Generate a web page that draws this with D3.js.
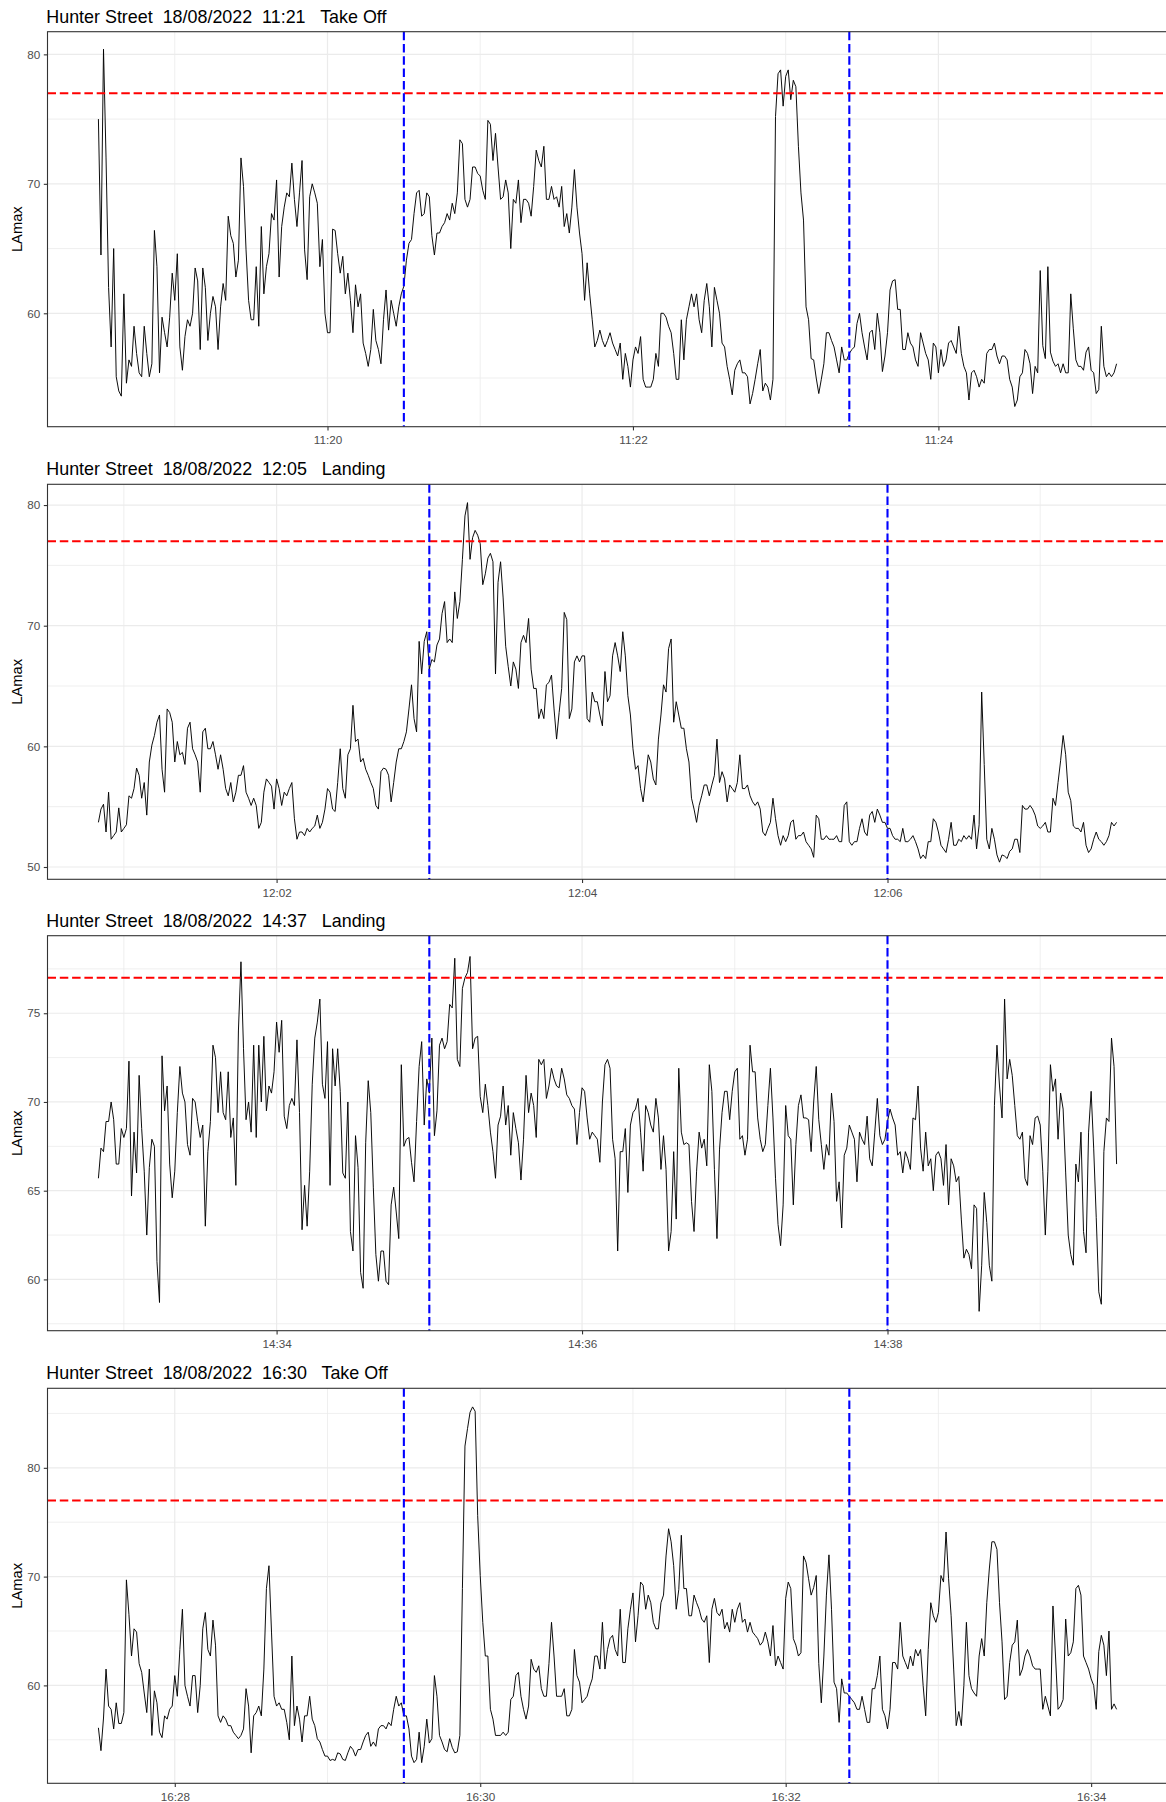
<!DOCTYPE html>
<html>
<head>
<meta charset="utf-8">
<script src="https://cdn.jsdelivr.net/npm/d3@7"></script>
<style>
  html, body { margin: 0; padding: 0; background: #ffffff; }
  svg { display: block; font-family: "Liberation Sans", Arial, sans-serif; }
</style>
</head>
<body>
<div id="chart"></div>
<script>
// Panel headings, one per aircraft event
const panelTitles = [
  "Hunter Street  18/08/2022  11:21   Take Off",
  "Hunter Street  18/08/2022  12:05   Landing",
  "Hunter Street  18/08/2022  14:37   Landing",
  "Hunter Street  18/08/2022  16:30   Take Off"
];

// First sample time of each record (one sample per second)
const startTimes = ["11:18:30", "12:00:50", "14:32:50", "16:27:30"];
const sampleSeconds = 1;

// Event window markers (blue dashed)
const eventMarks = [
  ["11:20:30", "11:23:25"],
  ["12:03:00", "12:06:00"],
  ["14:35:00", "14:38:00"],
  ["16:29:30", "16:32:25"]
];

// Noise threshold (red dashed), dB(A)
const thresholdDb = 77;

// Y axis limits and break spacing per panel
const yLimits = [[51.24, 81.75], [48.98, 81.72], [57.11, 79.37], [51.0, 87.31]];
const yBreakStep = [10, 10, 5, 10];

// LAmax readings, dB(A)
const lamax1121 = [
  75.0,64.5,80.4,72.0,62.0,57.4,65.0,55.1,54.0,53.6,61.5,54.6,56.4,55.9,59.0,56.9,55.4,55.1,59.0,56.9,
  55.1,56.1,66.4,63.6,55.4,59.7,58.5,57.4,59.7,63.1,61.0,64.6,57.4,55.6,58.2,59.5,59.0,60.0,63.5,62.5,
  57.2,63.5,62.0,57.9,60.0,61.3,60.5,57.2,60.5,62.3,61.0,67.5,66.0,65.4,62.8,64.1,72.0,69.8,64.9,61.0,
  59.5,59.5,63.6,59.0,66.7,61.5,63.6,64.6,67.7,67.2,70.3,62.8,66.7,68.2,69.3,69.0,71.6,68.8,66.7,69.3,
  71.8,64.9,62.6,69.0,70.0,69.3,68.5,63.6,65.7,60.0,58.5,58.5,66.5,66.4,64.6,63.1,64.4,61.5,63.1,61.0,
  58.5,62.2,60.5,61.5,57.7,56.9,55.9,57.2,60.3,57.9,57.2,56.1,59.5,61.8,58.7,61.0,60.0,59.0,60.5,61.5,
  62.1,64.1,65.4,65.7,67.7,69.3,69.5,67.5,67.7,69.3,69.0,66.0,64.5,66.2,66.2,66.7,67.0,67.7,67.2,68.5,
  67.7,69.3,73.4,73.1,68.8,68.2,68.8,71.3,71.3,70.8,70.6,69.5,68.8,74.9,74.6,71.8,73.9,71.3,68.8,69.0,
  70.3,69.3,65.0,68.8,68.5,70.3,67.0,68.8,68.8,68.5,67.5,69.8,72.6,71.8,71.3,72.9,68.8,68.8,69.8,68.8,
  69.0,68.2,69.8,66.7,67.7,66.2,68.2,71.1,68.2,66.2,64.6,61.0,63.9,61.5,59.5,57.4,57.9,58.7,57.9,57.4,
  57.9,58.5,57.7,57.2,56.7,57.7,54.9,56.9,55.9,54.3,56.4,57.4,56.9,58.2,54.9,54.3,54.3,54.3,54.9,56.9,
  55.9,60.0,60.0,59.7,59.0,58.5,56.9,54.9,54.9,59.5,56.4,59.5,60.5,61.5,60.5,61.5,59.5,58.5,61.0,62.3,
  60.5,57.4,62.0,61.0,60.0,57.7,57.4,55.9,54.9,53.7,55.6,56.1,56.4,55.4,55.4,55.1,53.0,53.8,54.9,56.1,
  57.2,54.0,54.6,54.3,53.3,54.9,75.2,78.5,78.8,76.0,78.3,78.8,76.5,78.0,77.5,72.9,69.3,67.2,60.5,59.5,
  56.5,56.4,55.0,53.8,54.9,56.1,58.5,58.5,57.9,57.4,56.4,55.4,57.4,56.4,56.4,56.9,57.2,57.4,59.2,60.0,
  58.5,57.4,56.4,58.5,58.7,57.2,60.0,58.5,55.5,56.7,58.5,61.8,62.5,62.6,60.3,60.3,57.2,57.2,58.5,57.7,
  57.4,56.4,55.9,58.5,57.7,56.9,56.4,54.9,57.7,57.4,55.4,57.2,55.9,56.4,57.7,57.9,57.4,56.9,59.0,56.9,
  55.9,55.4,53.3,55.4,55.6,55.1,54.3,54.9,54.6,56.9,57.2,57.2,57.7,56.7,56.1,56.7,56.7,56.4,54.9,54.3,
  52.8,53.3,55.1,55.4,57.2,56.9,56.1,53.8,55.9,55.4,63.3,57.5,56.5,63.6,57.0,56.3,55.9,56.1,55.4,56.1,
  55.4,55.4,61.5,58.8,56.4,55.9,55.9,55.6,57.0,57.4,55.6,55.4,53.8,54.1,59.0,55.9,55.1,55.4,55.1,55.4,
  56.1
];

const lamax1205 = [
  53.7,54.8,55.2,52.9,56.2,52.3,52.6,52.9,54.9,52.9,53.2,53.5,55.9,55.7,56.5,58.2,57.6,55.7,57.0,54.3,
  58.7,60.1,60.9,62.0,62.6,58.1,56.2,63.1,62.8,62.0,58.7,60.4,59.3,59.5,58.5,61.5,62.0,59.8,59.3,58.7,
  56.2,61.2,61.5,59.8,59.8,60.4,59.3,58.1,59.3,58.1,56.5,55.9,57.0,55.4,56.2,57.6,57.6,58.4,56.2,55.7,
  55.1,55.7,55.1,53.2,53.7,56.2,57.3,57.0,56.7,54.8,57.3,56.5,55.1,56.2,55.9,56.5,57.0,54.0,52.3,52.9,
  52.9,52.6,53.2,52.9,53.2,53.4,54.3,53.2,53.7,54.8,56.5,56.2,54.8,54.6,57.0,59.8,56.5,55.7,59.3,59.8,
  63.4,60.4,60.6,58.7,59.0,58.1,57.6,57.0,56.5,55.1,54.8,57.9,58.2,58.1,57.6,55.4,57.0,58.7,59.8,59.8,
  60.4,61.2,63.1,65.1,62.3,61.2,68.7,66.0,68.7,69.5,66.4,67.2,67.0,68.4,68.9,71.0,72.0,68.6,68.9,68.6,
  72.8,70.6,72.0,75.5,79.1,80.2,75.5,77.3,77.9,77.5,76.8,73.4,74.3,75.6,76.0,75.3,66.0,73.6,75.3,72.3,
  68.3,66.6,65.0,67.0,66.4,64.8,68.6,69.2,68.6,70.6,66.4,64.8,64.8,62.3,63.1,62.3,65.1,65.3,65.9,63.1,
  60.6,62.8,64.8,71.1,70.5,62.3,63.1,67.0,67.5,67.0,67.5,67.5,62.3,62.0,64.5,63.7,63.7,62.6,61.7,66.2,
  63.7,64.2,67.5,68.6,67.5,66.2,69.5,67.5,64.2,62.6,59.8,58.1,58.4,56.5,55.4,57.3,59.3,58.7,57.3,56.8,
  60.6,62.6,65.1,64.5,68.1,68.9,62.0,63.7,62.6,61.5,61.5,59.8,58.7,55.7,54.8,53.7,55.1,55.9,56.8,56.8,
  55.9,56.8,57.6,60.6,57.0,57.9,57.3,55.4,56.8,56.5,56.2,57.0,59.3,56.5,56.5,56.8,55.9,55.4,55.1,55.4,
  54.8,52.9,52.6,53.2,53.7,55.7,54.0,52.6,51.8,52.6,52.1,52.6,53.7,53.9,52.3,52.6,52.6,52.9,52.1,51.8,
  51.5,50.8,54.3,54.0,52.3,52.3,52.6,52.3,52.3,52.3,52.6,52.1,52.1,55.1,55.4,52.1,51.8,52.1,52.1,53.2,
  54.0,52.9,52.6,54.3,54.6,53.7,54.8,54.3,53.7,53.7,53.2,53.2,52.6,52.3,52.3,52.1,53.2,52.1,52.1,52.3,
  52.6,52.1,51.5,50.7,51.0,50.7,52.1,52.1,54.0,53.7,52.9,51.8,51.5,51.2,52.3,53.7,51.8,51.8,52.3,52.1,
  52.6,52.3,52.6,52.3,54.3,51.5,53.5,64.5,58.5,52.3,51.5,53.2,52.3,51.0,50.4,51.0,50.9,50.7,51.3,51.5,
  52.3,52.3,51.2,55.1,54.8,54.8,55.1,54.8,54.3,53.4,53.2,53.4,53.7,52.9,52.9,55.7,55.1,57.0,58.8,60.9,
  59.3,56.2,55.5,53.4,53.2,53.2,52.9,53.7,51.8,51.2,51.5,52.3,52.9,52.3,52.1,51.8,52.1,52.6,53.7,53.4,
  53.7
];

const lamax1437 = [
  65.7,67.4,67.2,68.9,68.9,70.0,69.0,66.5,66.5,68.5,68.0,68.5,72.3,64.7,68.3,66.0,71.5,68.5,66.1,62.5,
  66.3,67.9,67.5,61.0,58.7,72.6,69.5,70.9,66.5,64.6,66.1,69.4,72.0,70.5,70.0,67.6,67.0,70.2,70.0,68.9,
  68.0,68.7,63.0,67.2,68.9,73.2,72.5,69.4,71.7,69.4,69.0,71.7,68.0,69.1,65.3,74.0,77.9,73.0,69.0,70.0,
  68.3,73.2,68.0,73.2,70.0,73.7,69.5,70.9,70.5,71.7,74.5,72.8,74.6,69.2,68.5,69.8,70.2,69.8,73.5,69.4,
  62.8,65.3,63.0,66.1,71.0,73.6,74.5,75.8,71.0,70.2,73.4,65.3,73.0,70.9,73.0,70.6,66.0,65.7,70.0,62.7,
  61.6,68.1,66.3,60.4,59.5,67.7,71.2,69.4,65.2,61.4,59.9,61.6,61.6,59.9,59.7,64.2,65.2,63.8,62.3,72.1,
  67.5,67.9,68.0,66.6,65.5,68.9,72.0,73.4,68.7,71.3,70.5,73.6,68.1,69.5,73.2,73.6,73.0,73.4,75.5,75.3,
  78.1,72.4,72.0,76.4,77.0,77.3,78.2,73.0,73.6,73.7,70.3,69.4,71.0,69.8,68.3,67.2,65.7,68.7,69.2,70.9,
  68.7,69.8,67.0,69.4,68.5,67.7,65.6,67.9,71.5,69.4,70.5,69.8,68.0,72.4,72.1,72.4,70.2,70.9,71.9,71.3,
  70.9,70.8,71.9,71.3,70.4,70.2,69.8,69.6,67.6,69.4,70.8,70.6,69.1,67.9,68.3,68.1,67.9,66.6,70.0,72.1,
  72.4,71.9,67.9,66.8,61.6,67.2,67.2,68.5,64.9,68.7,69.4,69.6,70.2,68.3,66.1,69.8,69.4,68.7,68.3,70.2,
  69.1,66.2,68.1,66.2,61.6,62.7,67.2,63.4,71.9,68.3,67.6,67.7,67.6,64.4,62.7,66.1,68.3,67.4,67.9,66.4,
  72.1,70.6,66.2,62.3,67.3,69.4,70.6,70.6,69.0,70.6,71.7,71.9,67.9,68.1,67.0,67.9,73.2,71.7,71.7,69.1,
  67.9,67.2,67.6,69.8,71.9,69.1,65.7,63.1,61.9,64.2,69.8,68.1,67.9,64.2,67.6,69.8,70.4,69.1,69.1,69.0,
  67.2,70.0,72.0,69.0,67.6,66.2,67.6,67.0,70.5,68.9,64.4,65.5,62.9,67.0,67.4,68.7,68.3,67.9,65.5,68.3,
  67.9,67.6,69.2,66.8,66.4,68.3,70.2,68.1,67.6,67.9,68.9,69.6,69.1,68.7,67.0,67.2,66.0,67.2,66.8,66.2,
  69.1,69.0,70.9,67.4,66.1,68.3,66.4,66.8,65.0,67.0,67.2,66.8,65.3,67.6,64.2,66.8,66.4,65.5,65.8,63.4,
  61.2,61.7,61.4,60.6,64.2,64.0,58.2,60.8,64.9,63.2,60.8,59.9,69.8,73.2,70.9,69.1,75.8,71.3,72.4,71.5,
  69.8,68.1,67.9,68.3,65.7,65.3,68.1,67.6,69.1,69.2,68.7,66.1,62.5,66.1,72.1,70.6,71.3,67.9,70.5,69.6,
  66.0,62.5,61.4,60.8,66.5,65.5,68.3,62.7,61.5,68.3,70.6,67.4,63.5,59.3,58.6,67.2,69.1,68.9,73.6,72.0,
  66.5
];

const lamax1630 = [
  56.1,54.0,57.0,61.5,58.1,57.8,56.0,58.4,56.5,56.5,57.5,69.7,66.5,62.7,65.2,64.9,62.0,61.2,59.3,57.5,
  61.5,55.4,59.5,58.4,55.7,55.2,57.2,56.9,57.8,58.1,60.9,59.0,63.3,67.0,60.0,59.0,58.1,60.9,60.9,57.5,
  60.0,65.2,66.7,63.3,62.7,66.0,63.7,57.2,56.6,57.2,56.9,56.3,56.3,55.7,55.4,55.1,55.4,56.0,59.7,58.1,
  53.8,57.2,57.5,58.1,57.2,61.5,68.9,71.0,64.9,59.0,58.1,58.4,57.8,57.8,56.6,55.0,62.7,56.3,58.1,56.9,
  54.8,57.2,57.2,59.0,56.9,56.3,55.1,54.8,54.1,53.5,53.5,53.1,53.2,53.1,53.8,53.7,53.2,53.1,53.8,54.4,
  54.1,53.5,54.1,54.1,54.8,55.4,55.7,54.4,54.8,54.4,56.0,56.3,56.3,56.0,56.6,56.3,57.8,59.0,58.1,58.4,
  57.2,57.2,56.0,53.5,52.9,53.2,55.7,52.9,54.4,56.9,54.7,55.1,60.9,59.0,55.4,54.8,54.1,53.9,55.1,54.3,
  53.8,53.9,55.4,68.9,82.0,83.6,85.1,85.6,85.2,75.6,70.1,65.8,62.7,62.7,57.8,56.9,55.4,55.4,55.4,55.7,
  55.4,55.7,58.7,59.0,60.9,61.2,59.0,57.8,56.9,58.1,62.4,61.5,61.2,61.8,59.7,59.0,59.0,62.0,65.8,62.7,
  59.0,59.0,59.0,59.7,57.2,57.2,57.8,63.3,60.9,60.3,58.4,58.7,59.0,59.9,60.6,62.7,62.7,61.5,65.8,61.5,
  63.3,64.3,64.6,63.3,62.7,67.0,62.1,62.1,65.2,67.0,68.5,64.0,66.4,69.5,69.2,67.0,68.3,67.6,65.8,65.2,
  65.2,67.6,68.3,71.9,74.4,73.2,71.0,67.0,68.8,73.8,68.9,68.9,66.4,66.4,68.3,67.6,67.0,66.1,65.8,66.4,
  62.1,67.0,68.0,66.7,66.4,67.0,65.2,65.8,64.9,67.0,65.8,67.0,67.6,65.8,66.1,64.9,65.8,64.9,64.6,64.3,
  63.7,64.0,64.9,64.0,62.7,65.5,61.8,62.7,62.1,61.5,68.0,69.5,68.9,64.3,63.7,62.7,63.0,71.9,71.3,69.8,
  68.3,69.0,70.1,62.0,58.4,62.7,68.3,72.0,67.0,60.3,59.7,56.6,60.6,59.3,59.3,59.0,58.7,58.4,57.8,57.8,
  59.0,57.8,56.6,56.6,59.7,59.7,60.9,62.7,57.8,57.2,56.0,57.8,62.1,62.1,61.5,65.8,62.7,62.1,61.5,62.7,
  61.8,63.3,62.7,63.3,60.0,57.2,63.3,67.6,66.4,65.8,66.7,70.1,69.5,74.1,69.8,66.4,61.5,56.3,57.6,56.3,
  60.0,65.8,60.9,59.7,59.3,59.0,62.7,64.3,62.7,67.6,70.7,73.2,73.2,72.5,67.6,64.0,58.7,59.0,62.1,63.7,
  64.0,66.0,60.9,61.5,62.7,63.3,62.7,61.8,61.5,61.5,61.5,57.8,59.0,58.1,57.2,67.3,62.7,57.8,58.1,58.7,
  66.1,62.7,63.0,64.0,68.9,69.2,68.3,62.7,62.1,61.5,60.6,60.0,57.8,63.1,64.6,63.7,60.9,65.0,57.8,58.3,
  57.8
];

const series = [lamax1121, lamax1205, lamax1437, lamax1630];

// ---- drawing ----
const width = 1166, height = 1802;
const plotLeft = 47.5, plotRight = 1167.5;
const panelTops = [31.7, 484.3, 935.7, 1388.3];
const panelHeight = 395;

const clock = s => {
  const [h, m, sec] = s.split(":").map(Number);
  return new Date(Date.UTC(2022, 7, 18, h, m, sec));
};
const hm = d3.utcFormat("%H:%M");

const svg = d3.select("#chart").append("svg")
  .attr("width", width)
  .attr("height", height);

series.forEach((vals, i) => {
  const t0 = clock(startTimes[i]);
  const points = vals.map((v, k) => ({ t: new Date(+t0 + k * sampleSeconds * 1000), v }));
  const tEnd = points[points.length - 1].t;
  const pad = (tEnd - t0) * 0.05;

  const top = panelTops[i], bottom = top + panelHeight;
  const x = d3.scaleUtc()
    .domain([new Date(+t0 - pad), new Date(+tEnd + pad)])
    .range([plotLeft, plotRight]);
  const [lo, hi] = yLimits[i];
  const step = yBreakStep[i];
  const y = d3.scaleLinear().domain([lo, hi]).range([bottom, top]);

  const yMajor = d3.range(Math.ceil(lo / step) * step, hi, step);
  const yMinor = d3.range(Math.ceil((lo - step / 2) / step) * step + step / 2, hi, step)
    .filter(v => v > lo);
  const [d0, d1] = x.domain();
  const xMajor = d3.utcMinute.every(2).range(d0, d1);
  const xMinor = d3.utcMinute.range(d0, d1).filter(d => d.getUTCMinutes() % 2 === 1);

  const g = svg.append("g").attr("class", "panel");

  // grid
  const grid = g.append("g").attr("stroke", "#ebebeb").attr("fill", "none");
  grid.selectAll("line.ymin").data(yMinor).join("line")
    .attr("x1", plotLeft).attr("x2", plotRight)
    .attr("y1", d => y(d)).attr("y2", d => y(d))
    .attr("stroke-width", 0.8);
  grid.selectAll("line.xmin").data(xMinor).join("line")
    .attr("y1", top).attr("y2", bottom)
    .attr("x1", d => x(d)).attr("x2", d => x(d))
    .attr("stroke-width", 0.8);
  grid.selectAll("line.ymaj").data(yMajor).join("line")
    .attr("x1", plotLeft).attr("x2", plotRight)
    .attr("y1", d => y(d)).attr("y2", d => y(d))
    .attr("stroke-width", 1.2);
  grid.selectAll("line.xmaj").data(xMajor).join("line")
    .attr("y1", top).attr("y2", bottom)
    .attr("x1", d => x(d)).attr("x2", d => x(d))
    .attr("stroke-width", 1.2);

  // LAmax trace
  const line = d3.line().x(d => x(d.t)).y(d => y(d.v));
  g.append("path")
    .datum(points)
    .attr("d", line)
    .attr("fill", "none")
    .attr("stroke", "#000000")
    .attr("stroke-width", 0.95)
    .attr("stroke-linejoin", "round");

  // threshold
  g.append("line")
    .attr("x1", plotLeft).attr("x2", plotRight)
    .attr("y1", y(thresholdDb)).attr("y2", y(thresholdDb))
    .attr("stroke", "#ff0000")
    .attr("stroke-width", 2.1)
    .attr("stroke-dasharray", "8.5,3.8");

  // event window
  g.selectAll("line.evt").data(eventMarks[i].map(clock)).join("line")
    .attr("x1", d => x(d)).attr("x2", d => x(d))
    .attr("y1", top).attr("y2", bottom)
    .attr("stroke", "#0000ff")
    .attr("stroke-width", 2.1)
    .attr("stroke-dasharray", "8.5,3.8");

  // panel border
  g.append("rect")
    .attr("x", plotLeft).attr("y", top)
    .attr("width", plotRight - plotLeft).attr("height", panelHeight)
    .attr("fill", "none")
    .attr("stroke", "#333333")
    .attr("stroke-width", 1.1);

  // axes
  const xAxis = g.append("g")
    .attr("transform", `translate(0,${bottom})`)
    .call(d3.axisBottom(x).tickValues(xMajor).tickFormat(hm).tickSize(3.7).tickSizeOuter(0).tickPadding(5.8));
  const yAxis = g.append("g")
    .attr("transform", `translate(${plotLeft},0)`)
    .call(d3.axisLeft(y).tickValues(yMajor).tickFormat(d3.format("d")).tickSize(3.7).tickSizeOuter(0).tickPadding(3.6));
  [xAxis, yAxis].forEach(a => {
    a.select(".domain").remove();
    a.attr("font-family", null).attr("font-size", null);
    a.selectAll(".tick line").attr("stroke", "#333333").attr("stroke-width", 1.1);
    a.selectAll(".tick text")
      .attr("fill", "#4d4d4d")
      .style("font-size", "11.7px")
      .style("font-family", "'Liberation Sans', Arial, sans-serif");
  });

  // titles
  g.append("text")
    .attr("x", 46.3)
    .attr("y", top - 9.2)
    .style("white-space", "pre")
    .style("font-size", "17.9px")
    .attr("fill", "#000000")
    .text(panelTitles[i]);

  g.append("text")
    .attr("transform", `translate(22.3,${(top + bottom) / 2}) rotate(-90)`)
    .attr("text-anchor", "middle")
    .style("font-size", "14.7px")
    .attr("fill", "#000000")
    .text("LAmax");
});
</script>
</body>
</html>
